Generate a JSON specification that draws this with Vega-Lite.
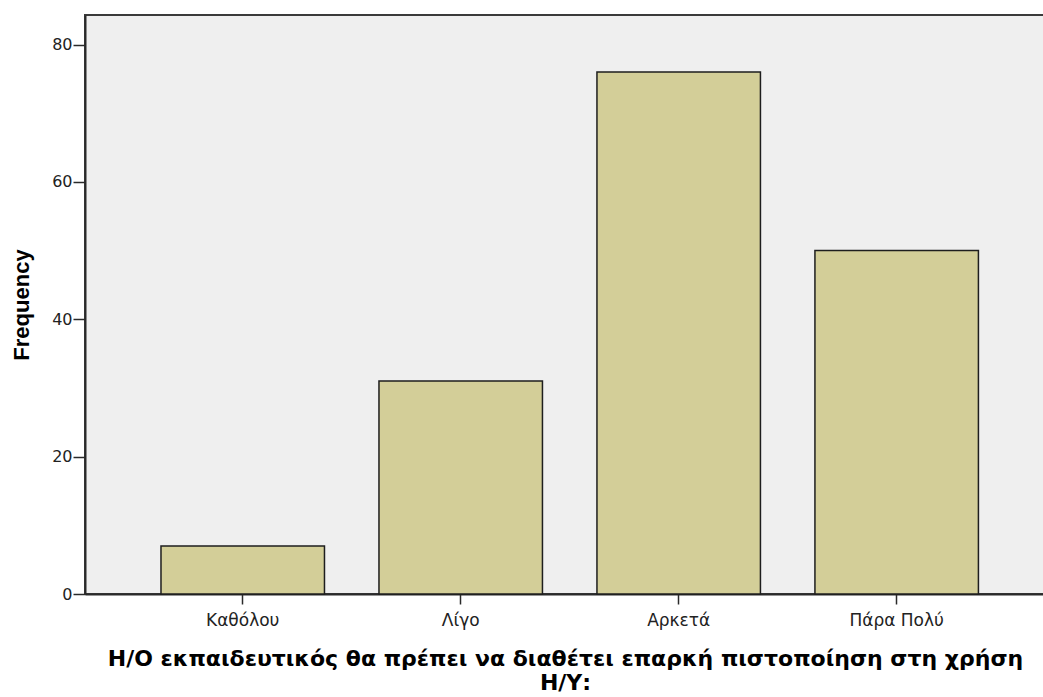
{
  "$schema": "https://vega.github.io/schema/vega-lite/v6.json",
  "width": 960,
  "height": 579,
  "autosize": {"type": "none"},
  "padding": {"left": 85, "top": 15, "right": 0, "bottom": 103},
  "background": "white",
  "config": {
    "view": {"fill": "#EFEFEF", "stroke": "#3a3a3a", "strokeWidth": 2},
    "axis": {"domainColor": "#2a2a2a", "tickColor": "#2a2a2a", "labelColor": "#222", "titleColor": "#000", "grid": false}
  },
  "data": {
    "values": [
      {"category": "Καθόλου", "Frequency": 7},
      {"category": "Λίγο", "Frequency": 31},
      {"category": "Αρκετά", "Frequency": 76},
      {"category": "Πάρα Πολύ", "Frequency": 50}
    ]
  },
  "mark": {"type": "bar", "fill": "#D3CE98", "stroke": "#1e1e1e", "strokeWidth": 1.5},
  "encoding": {
    "x": {
      "field": "category",
      "type": "nominal",
      "sort": null,
      "scale": {"paddingInner": 0.25, "paddingOuter": 0.327, "align": 0.533},
      "axis": {
        "title": ["Η/Ο εκπαιδευτικός θα πρέπει να διαθέτει επαρκή πιστοποίηση στη χρήση", "Η/Υ:"],
        "titleFont": "DejaVu Sans",
        "titleFontSize": 22,
        "titleFontWeight": "bold",
        "titleLineHeight": 24,
        "titlePadding": 20,
        "labelAngle": 0,
        "labelFont": "DejaVu Sans",
        "labelFontSize": 17,
        "labelPadding": 8,
        "tickSize": 10,
        "domainWidth": 2,
        "tickWidth": 1.5
      }
    },
    "y": {
      "field": "Frequency",
      "type": "quantitative",
      "scale": {"domain": [0, 84.3], "nice": false},
      "axis": {
        "title": "Frequency",
        "titleFont": "Liberation Sans",
        "titleFontSize": 22,
        "titleFontWeight": "bold",
        "titlePadding": 18,
        "values": [0, 20, 40, 60, 80],
        "labelFont": "DejaVu Sans",
        "labelFontSize": 16,
        "labelPadding": 1,
        "tickSize": 12,
        "domainWidth": 2,
        "tickWidth": 1.5
      }
    }
  }
}
